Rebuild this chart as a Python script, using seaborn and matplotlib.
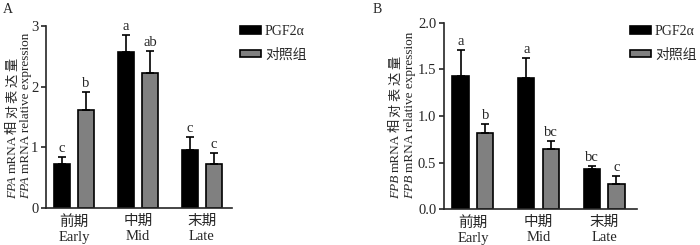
import matplotlib
matplotlib.use('Agg')
import pandas as pd
import matplotlib.pyplot as plt
import seaborn as sns
from matplotlib.patches import Patch
from matplotlib.ticker import FormatStrFormatter

# data
stages = ['前期\nEarly', '中期\nMid', '末期\nLate']
groups = ['PGF2α', '对照组']

fpa_pgf = [0.72, 2.57, 0.96]
fpa_pgf_err = [0.125, 0.28, 0.21]
fpa_ctrl = [1.62, 2.23, 0.72]
fpa_ctrl_err = [0.29, 0.35, 0.18]
fpa_pgf_sig = ['c', 'a', 'c']
fpa_ctrl_sig = ['b', 'ab', 'c']

fpb_pgf = [1.43, 1.41, 0.43]
fpb_pgf_err = [0.28, 0.21, 0.03]
fpb_ctrl = [0.82, 0.645, 0.27]
fpb_ctrl_err = [0.09, 0.085, 0.08]
fpb_pgf_sig = ['a', 'a', 'bc']
fpb_ctrl_sig = ['b', 'bc', 'c']

colors = ['black', '#808080']

sns.set_style('ticks')
plt.rcParams['font.family'] = ['Liberation Serif', 'Noto Sans CJK SC']
plt.rcParams['axes.linewidth'] = 1.2

W, H = 700, 245
fig = plt.figure(figsize=(7, 2.45), dpi=100)
axA = fig.add_axes([46 / W, 1 - 208 / H, (232 - 46) / W, (208 - 26) / H])
axB = fig.add_axes([444 / W, 1 - 209 / H, (637 - 444) / W, (209 - 23) / H])


def draw_panel(ax, pgf, pgf_err, ctrl, ctrl_err, sig_pgf, sig_ctrl):
    df = pd.DataFrame({
        'stage': stages * 2,
        'group': [groups[0]] * 3 + [groups[1]] * 3,
        'value': pgf + ctrl,
        'err': pgf_err + ctrl_err,
        'sig': sig_pgf + sig_ctrl,
    })
    sns.barplot(data=df, x='stage', y='value', hue='group', order=stages,
                hue_order=groups, palette=colors, width=0.75, gap=0.33,
                errorbar=None, edgecolor='black', linewidth=1.2,
                legend=False, ax=ax)
    for bar, (_, row) in zip(ax.patches, df.iterrows()):
        xc = bar.get_x() + bar.get_width() / 2
        top = bar.get_height()
        ax.errorbar(xc, top, yerr=[[0], [row.err]], fmt='none', ecolor='black',
                    elinewidth=1.2, capsize=2.9, capthick=1.2, zorder=1)
        ax.annotate(row.sig, (xc, top + row.err), xytext=(0, 1.5),
                    textcoords='offset points', ha='center', va='bottom',
                    fontsize=10.5)
    ax.set_xlabel('')
    ax.set_ylabel('')
    ax.tick_params(axis='x', length=0, pad=5, labelsize=10.5)
    ax.tick_params(axis='y', length=3.5, width=1.2, pad=2, labelsize=10.5)
    sns.despine(ax=ax)


draw_panel(axA, fpa_pgf, fpa_pgf_err, fpa_ctrl, fpa_ctrl_err, fpa_pgf_sig, fpa_ctrl_sig)
axA.set_ylim(0, 3)
axA.set_yticks([0, 1, 2, 3])
axA.set_xlim(-0.44, 2.47)

draw_panel(axB, fpb_pgf, fpb_pgf_err, fpb_ctrl, fpb_ctrl_err, fpb_pgf_sig, fpb_ctrl_sig)
axB.set_ylim(0, 2)
axB.set_yticks([0, 0.5, 1.0, 1.5, 2.0])
axB.yaxis.set_major_formatter(FormatStrFormatter('%.1f'))
axB.set_xlim(-0.44, 2.5)

handles = [Patch(facecolor=c, edgecolor='black', linewidth=1.2) for c in colors]
for xpos in (240, 630):
    fig.legend(handles, groups, loc='upper left', bbox_to_anchor=(xpos / W, 1 - 25 / H),
               frameon=False, fontsize=10, handlelength=1.5, handleheight=0.45,
               handletextpad=0.3, labelspacing=0.75, borderpad=0, borderaxespad=0)

fig.text(3 / W, 1 - 3 / H, 'A', fontsize=10, va='top')
fig.text(373 / W, 1 - 3 / H, 'B', fontsize=10, va='top')

# y labels with italic gene names, built from pieces
renderer = fig.canvas.get_renderer()
ita = dict(family='Liberation Serif', style='italic')
rom = dict(family='Liberation Serif')
cjk = dict(family='Noto Sans CJK SC')


def piece_label(xpix, ystart, pieces, size=9.5):
    y = H - ystart
    for s, kw, gap in pieces:
        t = fig.text(xpix / W, y / H, s, rotation=90, rotation_mode='anchor',
                     ha='left', va='baseline', fontsize=size, **kw)
        h = t.get_window_extent(renderer).height
        y += h + gap


for gene, x1, x2 in (('FPA', 16, 29), ('FPB', 399, 413)):
    pieces = [(gene, ita, 3), ('mRNA', rom, 1)]
    pieces += [(ch, cjk, 2.5) for ch in '相对表达量']
    piece_label(x1, 199, pieces)
    piece_label(x2, 199, [(gene, ita, 3), ('mRNA relative expression', rom, 0)])

fig.savefig('out.png', dpi=100)
